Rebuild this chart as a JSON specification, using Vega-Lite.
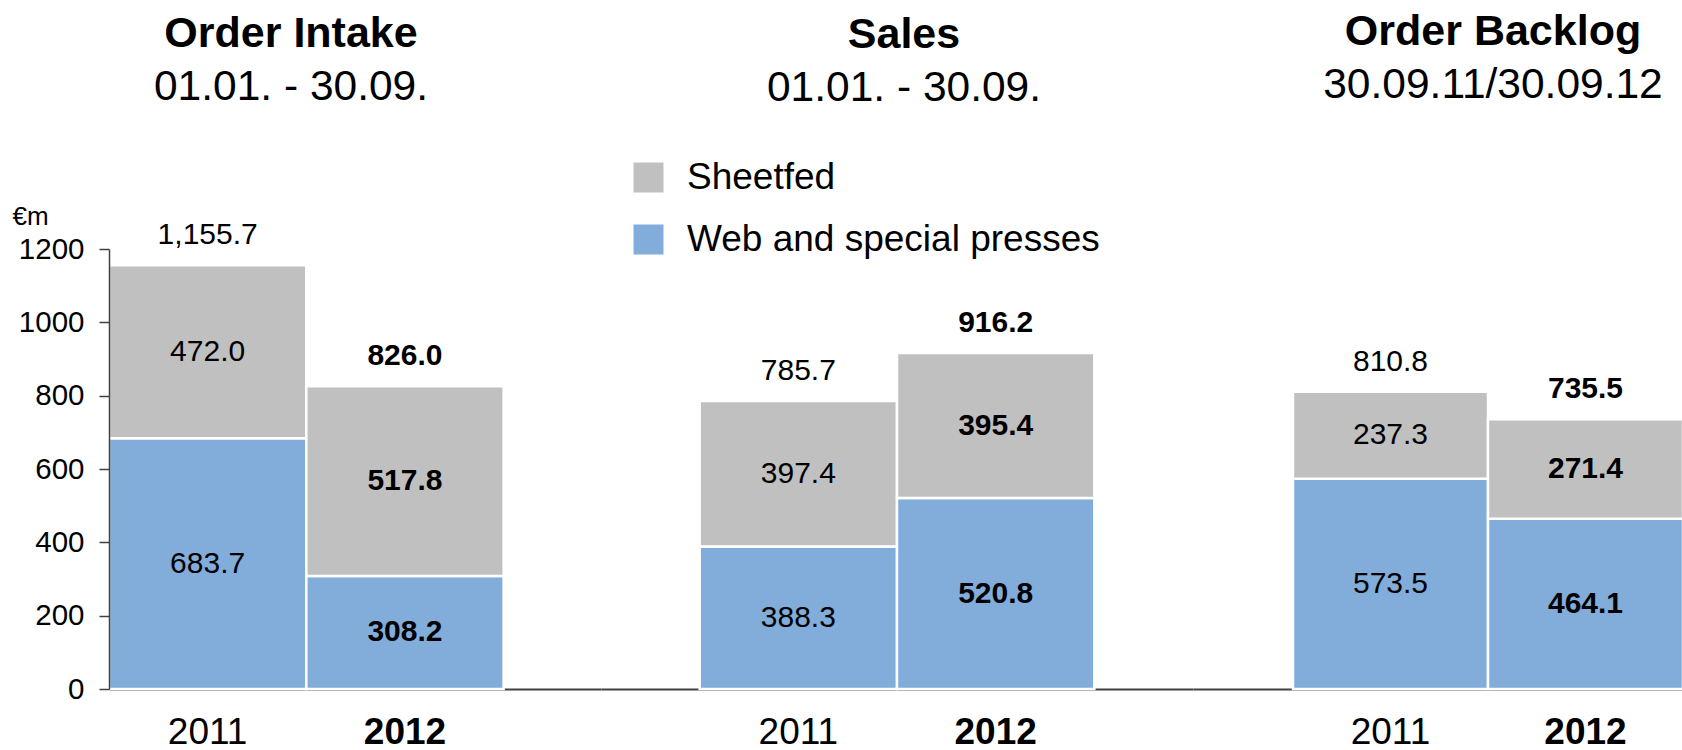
{
  "$schema": "https://vega.github.io/schema/vega-lite/v6.json",
  "padding": {"left": 12, "top": 10, "right": 0, "bottom": 0},
  "background": "white",
  "spacing": 0,
  "bounds": "flush",
  "config": {
    "font": "Liberation Sans",
    "view": {"stroke": null},
    "text": {"font": "Liberation Sans", "color": "black"},
    "title": {"font": "Liberation Sans", "subtitleFont": "Liberation Sans", "fontSize": 43, "fontWeight": "bold", "subtitleFontSize": 42.5, "subtitleFontWeight": "normal", "color": "black", "subtitleColor": "black", "anchor": "middle", "frame": "group", "subtitlePadding": 10},
    "axisX": {"title": null, "ticks": false, "tickSize": 0, "labelFontSize": 37, "labelPadding": 25, "labelAngle": 0, "labelColor": "black", "domainColor": "#404040", "domainWidth": 2, "zindex": 1, "labelFontWeight": {"condition": {"test": "datum.value === '2012'", "value": "bold"}, "value": "normal"}}
  },
  "data": {"values": [
    {"group": "Order Intake", "year": "2011", "segment": "Web and special presses", "value": 683.7},
    {"group": "Order Intake", "year": "2011", "segment": "Sheetfed", "value": 472.0},
    {"group": "Order Intake", "year": "2012", "segment": "Web and special presses", "value": 308.2},
    {"group": "Order Intake", "year": "2012", "segment": "Sheetfed", "value": 517.8},
    {"group": "Sales", "year": "2011", "segment": "Web and special presses", "value": 388.3},
    {"group": "Sales", "year": "2011", "segment": "Sheetfed", "value": 397.4},
    {"group": "Sales", "year": "2012", "segment": "Web and special presses", "value": 520.8},
    {"group": "Sales", "year": "2012", "segment": "Sheetfed", "value": 395.4},
    {"group": "Order Backlog", "year": "2011", "segment": "Web and special presses", "value": 573.5},
    {"group": "Order Backlog", "year": "2011", "segment": "Sheetfed", "value": 237.3},
    {"group": "Order Backlog", "year": "2012", "segment": "Web and special presses", "value": 464.1},
    {"group": "Order Backlog", "year": "2012", "segment": "Sheetfed", "value": 271.4}
  ]},
  "resolve": {"scale": {"x": "independent", "y": "shared", "color": "independent"}, "legend": {"color": "independent"}},
  "hconcat": [
    {
      "width": 492, "height": 440,
      "title": {"text": "Order Intake", "subtitle": "01.01. - 30.09.", "dx": -64, "offset": 95},
      "transform": [{"filter": "datum.group === 'Order Intake'"}],
      "encoding": {
        "x": {"field": "year", "type": "nominal", "scale": {"paddingInner": 0, "paddingOuter": 0.2468, "align": 0}},
        "y": {"field": "value", "type": "quantitative", "stack": "zero", "scale": {"domain": [0, 1200], "nice": false},
          "axis": {"title": "€m", "titleAngle": 0, "titleAlign": "left", "titleBaseline": "alphabetic", "titleX": -97, "titleY": -25, "titleFontSize": 26, "titleFontWeight": "normal", "titleColor": "black", "values": [0, 200, 400, 600, 800, 1000, 1200], "format": "d", "labelFontSize": 29.5, "labelColor": "black", "tickSize": 10, "tickColor": "#404040", "tickWidth": 1.5, "labelPadding": 15, "domainColor": "#404040", "domainWidth": 1.5, "grid": false, "zindex": 1}},
        "order": {"field": "segment", "sort": "descending"}
      },
      "layer": [
        {"mark": {"type": "bar", "stroke": "white", "strokeWidth": 2.5},
         "encoding": {"color": {"field": "segment", "type": "nominal", "scale": {"domain": ["Sheetfed", "Web and special presses"], "range": ["#C0C0C0", "#82ACDA"]}, "legend": null}}},
        {"mark": {"type": "text", "fontSize": 30, "baseline": "middle", "fontWeight": {"expr": "datum.year === '2012' ? 'bold' : 'normal'"}},
         "encoding": {"y": {"field": "value", "type": "quantitative", "stack": "zero", "bandPosition": 0.5}, "text": {"field": "value", "type": "quantitative", "format": ".1f"}}},
        {"mark": {"type": "text", "fontSize": 30, "baseline": "alphabetic", "dy": -21, "fontWeight": {"expr": "datum.year === '2012' ? 'bold' : 'normal'"}},
         "encoding": {"y": {"aggregate": "sum", "field": "value", "type": "quantitative"}, "text": {"aggregate": "sum", "field": "value", "type": "quantitative", "format": ",.1f"}, "order": null}}
      ]
    },
    {
      "width": 592, "height": 440,
      "title": {"text": "Sales", "subtitle": "01.01. - 30.09.", "dx": 7, "offset": 50},
      "transform": [{"filter": "datum.group === 'Sales'"}],
      "encoding": {
        "x": {"field": "year", "type": "nominal", "scale": {"paddingInner": 0, "paddingOuter": 0.5, "align": 0.5}},
        "y": {"field": "value", "type": "quantitative", "stack": "zero", "scale": {"domain": [0, 1200], "nice": false}, "axis": null},
        "order": {"field": "segment", "sort": "descending"}
      },
      "layer": [
        {"mark": {"type": "bar", "stroke": "white", "strokeWidth": 2.5},
         "encoding": {"color": {"field": "segment", "type": "nominal", "scale": {"domain": ["Sheetfed", "Web and special presses"], "range": ["#C0C0C0", "#82ACDA"]},
           "legend": {"orient": "none", "legendX": 29, "legendY": -90, "title": null, "symbolType": "square", "symbolSize": 900, "symbolStrokeWidth": 0, "labelFontSize": 37, "labelOffset": 20, "rowPadding": 24, "labelColor": "black", "labelFont": "Liberation Sans", "padding": 0, "labelLimit": 600}}}},
        {"mark": {"type": "text", "fontSize": 30, "baseline": "middle", "fontWeight": {"expr": "datum.year === '2012' ? 'bold' : 'normal'"}},
         "encoding": {"y": {"field": "value", "type": "quantitative", "stack": "zero", "bandPosition": 0.5}, "text": {"field": "value", "type": "quantitative", "format": ".1f"}}},
        {"mark": {"type": "text", "fontSize": 30, "baseline": "alphabetic", "dy": -21, "fontWeight": {"expr": "datum.year === '2012' ? 'bold' : 'normal'"}},
         "encoding": {"y": {"aggregate": "sum", "field": "value", "type": "quantitative"}, "text": {"aggregate": "sum", "field": "value", "type": "quantitative", "format": ",.1f"}, "order": null}}
      ]
    },
    {
      "width": 490, "height": 440,
      "title": {"text": "Order Backlog", "subtitle": "30.09.11/30.09.12", "dx": 55, "offset": 143},
      "transform": [{"filter": "datum.group === 'Order Backlog'"}],
      "encoding": {
        "x": {"field": "year", "type": "nominal", "scale": {"paddingInner": 0, "paddingOuter": 0.2564, "align": 1}},
        "y": {"field": "value", "type": "quantitative", "stack": "zero", "scale": {"domain": [0, 1200], "nice": false}, "axis": null},
        "order": {"field": "segment", "sort": "descending"}
      },
      "layer": [
        {"mark": {"type": "bar", "stroke": "white", "strokeWidth": 2.5},
         "encoding": {"color": {"field": "segment", "type": "nominal", "scale": {"domain": ["Sheetfed", "Web and special presses"], "range": ["#C0C0C0", "#82ACDA"]}, "legend": null}}},
        {"mark": {"type": "text", "fontSize": 30, "baseline": "middle", "fontWeight": {"expr": "datum.year === '2012' ? 'bold' : 'normal'"}},
         "encoding": {"y": {"field": "value", "type": "quantitative", "stack": "zero", "bandPosition": 0.5}, "text": {"field": "value", "type": "quantitative", "format": ".1f"}}},
        {"mark": {"type": "text", "fontSize": 30, "baseline": "alphabetic", "dy": -21, "fontWeight": {"expr": "datum.year === '2012' ? 'bold' : 'normal'"}},
         "encoding": {"y": {"aggregate": "sum", "field": "value", "type": "quantitative"}, "text": {"aggregate": "sum", "field": "value", "type": "quantitative", "format": ",.1f"}, "order": null}}
      ]
    }
  ]
}
